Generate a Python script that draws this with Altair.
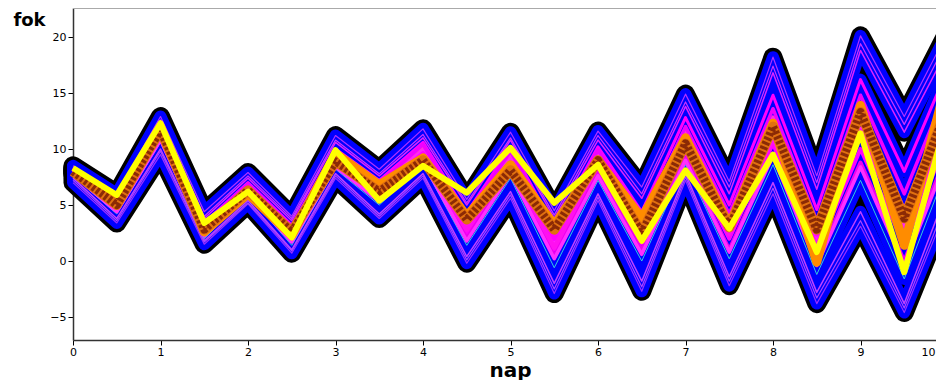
import altair as alt
import pandas as pd

# forecast days (half-day steps)
days = [0, 0.5, 1, 1.5, 2, 2.5, 3, 3.5, 4, 4.5, 5, 5.5, 6, 6.5, 7, 7.5, 8, 8.5, 9, 9.5, 10]

# ensemble members (temperature, °C)
m01 = [8.5, 6.0, 12.9, 4.4, 7.9, 4.0, 11.2, 8.2, 11.8, 5.5, 11.5, 4.5, 11.6, 6.6, 14.9, 7.1, 18.2, 7.6, 20.1, 12.9, 20.5]
m02 = [7.0, 3.4, 9.5, 1.5, 5.1, 0.7, 7.4, 3.8, 7.4, -0.2, 5.6, -2.9, 5.4, -2.7, 7.2, -2.2, 6.0, -3.8, 3.1, -4.6, 5.0]
m03 = [8.2, 5.6, 12.4, 3.8, 7.4, 3.6, 10.6, 7.6, 11.0, 5.0, 10.8, 3.8, 10.8, 5.6, 13.8, 6.0, 16.8, 6.4, 18.8, 11.5, 19.0]
m04 = [7.4, 3.8, 10.0, 1.8, 5.4, 1.0, 7.8, 4.2, 7.8, 0.4, 6.2, -2.0, 6.0, -1.8, 7.8, -1.4, 7.0, -2.8, 4.4, -3.8, 6.5]
m05 = [7.8, 4.6, 11.0, 2.2, 6.4, 2.0, 8.6, 6.0, 9.6, 2.5, 8.6, 1.0, 8.4, 1.6, 9.8, 2.0, 10.5, 0.8, 10.0, 1.5, 11.0]
m06 = [8.0, 5.2, 11.6, 3.0, 6.8, 2.8, 9.4, 6.6, 10.2, 3.6, 9.4, 2.2, 9.6, 3.0, 11.6, 3.6, 12.8, 2.6, 13.6, 4.5, 14.5]
m07 = [7.6, 4.2, 10.6, 2.0, 5.9, 1.4, 8.2, 5.0, 8.6, 1.4, 7.4, -0.6, 7.2, 0.0, 8.6, 0.2, 8.6, -1.2, 7.2, -1.6, 8.5]
m08 = [8.3, 5.4, 12.0, 3.4, 7.0, 3.2, 10.0, 7.2, 10.6, 4.3, 10.2, 3.0, 10.2, 4.4, 12.8, 5.0, 14.8, 4.6, 16.2, 8.0, 17.2]
m09 = [7.9, 4.9, 11.3, 2.6, 6.6, 2.4, 9.0, 6.2, 9.8, 3.0, 9.0, 1.6, 9.0, 2.4, 10.6, 2.8, 11.5, 1.8, 11.8, 3.0, 12.8]
m10 = [8.1, 5.0, 11.8, 2.8, 6.2, 2.2, 8.8, 5.6, 9.2, 2.0, 8.0, 0.4, 8.0, 1.0, 9.2, 1.0, 9.6, -0.2, 8.8, 0.0, 9.8]
m11 = [8.4, 5.8, 12.6, 4.0, 7.6, 3.8, 10.8, 7.8, 11.3, 5.2, 11.0, 4.1, 11.2, 6.0, 14.2, 6.6, 17.4, 7.0, 19.4, 12.2, 19.8]
m12 = [7.2, 3.6, 9.8, 1.7, 5.2, 0.9, 7.6, 4.0, 7.6, 0.1, 5.9, -2.5, 5.7, -2.3, 7.5, -1.8, 6.5, -3.3, 3.6, -4.2, 5.6]
m13 = [8.1, 5.3, 11.9, 3.1, 6.5, 2.6, 9.2, 6.4, 9.6, 3.4, 8.8, 2.0, 9.2, 2.6, 10.8, 3.2, 12.2, 2.4, 13.0, 3.6, 13.6]
m14 = [7.9, 4.7, 11.2, 2.5, 6.1, 2.0, 8.6, 5.8, 8.9, 2.8, 8.4, 1.2, 8.6, 1.8, 10.2, 2.4, 11.0, 1.2, 11.6, 2.4, 12.0]
m15 = [8.2, 5.5, 12.2, 3.2, 6.9, 3.0, 9.8, 6.9, 10.4, 4.0, 9.8, 2.6, 9.9, 3.6, 12.0, 4.2, 13.6, 3.6, 14.8, 6.0, 15.6]
m16 = [7.7, 4.4, 10.8, 2.3, 6.0, 1.7, 8.4, 5.3, 8.8, 1.8, 7.8, 0.2, 7.6, 0.6, 9.0, 0.8, 9.4, -0.4, 8.4, -0.4, 9.4]

members = {"m01": m01, "m02": m02, "m03": m03, "m04": m04, "m05": m05, "m06": m06,
           "m07": m07, "m08": m08, "m09": m09, "m10": m10, "m11": m11, "m12": m12,
           "m13": m13, "m14": m14, "m15": m15, "m16": m16}
member_colors = {"m01": "#b030ff", "m02": "#9a2cff", "m03": "#dd22ff", "m04": "#c040ff",
                 "m05": "#ff00ff", "m06": "#ff33dd", "m07": "#33ccdd", "m08": "#ff00ff",
                 "m09": "#ff22ff", "m10": "#ee00ee", "m11": "#cc33ff", "m12": "#aa44ff",
                 "m13": "#ff00ff", "m14": "#ff10f0", "m15": "#f000ff", "m16": "#ff30ff"}
member_widths = {"m01": 1.2, "m02": 1.2, "m03": 1.5, "m04": 1.5, "m05": 4, "m06": 4.5,
                 "m07": 1, "m08": 3, "m09": 4.5, "m10": 4, "m11": 1.2, "m12": 1.2,
                 "m13": 4.5, "m14": 4.5, "m15": 3.5, "m16": 3.5}

# ensemble mean (brown), second statistic (orange), control run (yellow)
mean_line = [8.0, 5.0, 11.7, 2.8, 6.3, 2.6, 8.9, 6.2, 9.0, 3.7, 8.1, 2.8, 9.0, 2.5, 10.5, 3.0, 12.0, 2.8, 13.3, 3.8, 13.9]
orange_line = [8.0, 5.2, 12.0, 2.6, 6.0, 2.3, 9.6, 6.8, 9.2, 4.0, 8.6, 3.2, 9.0, 3.8, 11.0, 3.2, 12.3, -0.1, 13.9, 1.4, 16.5]
control = [8.3, 5.9, 12.3, 3.4, 6.2, 2.1, 9.9, 5.4, 8.5, 6.1, 10.1, 5.2, 8.6, 1.8, 8.1, 2.9, 9.5, 0.8, 11.4, -1.0, 13.0]

rows = []
for name, vals in members.items():
    for d, v in zip(days, vals):
        rows.append({"member": name, "x": d, "y": v, "w": member_widths[name]})
ens = pd.DataFrame(rows)

mean_df = pd.DataFrame({"x": days, "y": mean_line})
orange_df = pd.DataFrame({"x": days, "y": orange_line})
ctrl_df = pd.DataFrame({"x": days, "y": control})
frame_df = pd.DataFrame({"k": [0]})

FONT = "DejaVu Sans"
is_last = "datum.value == 10"

x_enc = alt.X("x:Q",
              scale=alt.Scale(domain=[0, 10], range=[0, 875], nice=False, zero=False),
              axis=alt.Axis(values=list(range(11)), title="nap", grid=False,
                            labelFont=FONT, labelFontSize=11, labelColor="black",
                            tickColor="black", tickSize=5, labelPadding=1,
                            domainColor="#333333", domainWidth=1.5,
                            labelAlign={"condition": {"test": is_last, "value": "right"}, "value": "center"},
                            labelOffset={"condition": {"test": is_last, "value": -13}, "value": 0},
                            titleFont=FONT, titleFontSize=20, titleFontWeight="bold",
                            titleColor="black", titleX=437, titleY=36, titleBaseline="alphabetic",
                            labelFlush=False))
y_enc = alt.Y("y:Q",
              scale=alt.Scale(domain=[-7.05, 22.59], nice=False, zero=False),
              axis=alt.Axis(values=[-5, 0, 5, 10, 15, 20], title="fok", grid=False,
                            labelFont=FONT, labelFontSize=11, labelColor="black",
                            tickColor="black", tickSize=5, labelPadding=2,
                            domainColor="#333333", domainWidth=1.5,
                            titleFont=FONT, titleFontSize=18, titleFontWeight="bold",
                            titleColor="black", titleAngle=0, titleX=-44, titleY=17,
                            titleAlign="center", titleBaseline="alphabetic"))

black = alt.Chart(ens).mark_line(color="black", strokeWidth=19, strokeJoin="round",
                                 strokeCap="round").encode(x=x_enc, y=y_enc, detail="member:N")
blue = alt.Chart(ens).mark_line(color="#0000ff", strokeWidth=12, strokeJoin="round",
                                strokeCap="round").encode(x=x_enc, y=y_enc, detail="member:N")
thin = alt.Chart(ens).mark_line(strokeJoin="round").encode(
    x=x_enc, y=y_enc,
    strokeWidth=alt.StrokeWidth("w:Q", scale=None),
    color=alt.Color("member:N",
                    scale=alt.Scale(domain=list(member_colors.keys()),
                                    range=list(member_colors.values())),
                    legend=None))
orange = alt.Chart(orange_df).mark_line(color="#ff8c00", strokeWidth=9,
                                        strokeJoin="round").encode(x=x_enc, y=y_enc)
brown_under = alt.Chart(mean_df).mark_line(color="#e07010", strokeWidth=10,
                                           strokeJoin="round").encode(x=x_enc, y=y_enc)
brown = alt.Chart(mean_df).mark_line(color="#8b2a05", strokeWidth=8, strokeDash=[3, 2],
                                     strokeJoin="round").encode(x=x_enc, y=y_enc)
yellow = alt.Chart(ctrl_df).mark_line(color="#ffff00", strokeWidth=6,
                                      strokeJoin="round").encode(x=x_enc, y=y_enc)
top_frame = alt.Chart(frame_df).mark_rule(color="#aaaaaa", strokeWidth=2).encode(
    x=alt.value(0), x2=alt.value(875), y=alt.value(0))

chart = alt.layer(black, blue, thin, orange, brown_under, brown, yellow, top_frame).properties(
    width=863, height=332,
    padding={"left": 65, "top": 0, "right": 0, "bottom": 40},
    autosize=alt.AutoSizeParams(type="none"),
).configure_view(strokeWidth=0).configure(background="white")

chart.save("out.html", embed_options={"renderer": "svg", "actions": False})
